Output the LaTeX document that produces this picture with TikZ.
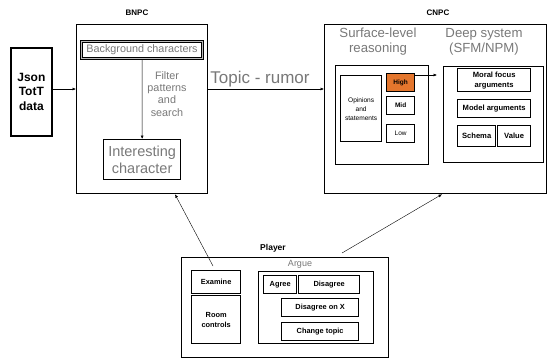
\documentclass[tikz,border=0pt]{standalone}
\usepackage{fontspec}
\setmainfont{Liberation Sans}
\usetikzlibrary{arrows.meta}
\definecolor{txtgray}{RGB}{120,120,120}
\definecolor{hiorange}{RGB}{228,118,45}
\begin{document}
\begin{tikzpicture}[x=1pt,y=-1pt,
  box/.style={draw=black,line width=1.3pt,inner sep=0pt,anchor=north west,align=center},
  arr/.style={-{Latex[length=3.5pt,width=3pt]},line width=0.5pt},
  ttl/.style={font=\bfseries\fontsize{8}{9.5}\selectfont},
  gr/.style={text=txtgray,align=center}]
\useasboundingbox (0,0) rectangle (548,360);
% Json
\node[box,line width=1.7pt,minimum width=41pt,minimum height=88pt,font=\bfseries\fontsize{12}{14.5}\selectfont] (json) at (10,47) {Json\\TotT\\data};
% BNPC
\node[ttl] (bnpclbl) at (137,13) {BNPC};
\node[box,minimum width=131pt,minimum height=169pt] (bnpc) at (76,24) {};
\node[box,double=txtgray!50,double distance=0.6pt,line width=1pt,minimum width=121pt,minimum height=17pt,text=txtgray,font=\fontsize{10.8}{12}\selectfont] (bg) at (81,41) {Background characters};
\node[box,minimum width=77pt,minimum height=40pt,text=txtgray,font=\fontsize{14.5}{17}\selectfont] (int) at (103,139) {Interesting\\character};
\node[gr,font=\fontsize{10.8}{12.2}\selectfont] (filter) at (167,94) {Filter\\patterns\\and\\search};
\draw[arr] (bg.south) -- (int.north);
\draw[arr] (json.east |- 0,89) coordinate (jsonout) -- (jsonout -| bnpc.west);
% CNPC
\node[ttl] (cnpclbl) at (438,13) {CNPC};
\node[box,minimum width=222pt,minimum height=169pt] (cnpc) at (324,24) {};
\draw[arr] (jsonout -| bnpc.east) -- (jsonout -| cnpc.west);
\node[gr,font=\fontsize{17}{20}\selectfont,anchor=south] (topic) at (260,91) {Topic - rumor};
\node[gr,font=\fontsize{13.2}{15}\selectfont] (surflbl) at (378,42) {Surface-level\\reasoning};
\node[gr,font=\fontsize{13.2}{15}\selectfont] (deeplbl) at (484,42) {Deep system\\(SFM/NPM)};
\node[box,minimum width=93pt,minimum height=99pt] (surf) at (335,65) {};
\node[box,minimum width=41pt,minimum height=66pt,font=\fontsize{6.6}{9}\selectfont] (opin) at (340,75) {Opinions\\and\\statements};
\node[box,fill=hiorange,minimum width=28pt,minimum height=18pt,font=\bfseries\fontsize{6.5}{7.5}\selectfont] (high) at (386,73) {High};
\node[box,minimum width=28pt,minimum height=18pt,font=\bfseries\fontsize{6.5}{7.5}\selectfont] (mid) at (386,96) {Mid};
\node[box,minimum width=28pt,minimum height=18pt,font=\fontsize{6.5}{7.5}\selectfont] (low) at (386,124) {Low};
\node[box,minimum width=100pt,minimum height=96pt] (deep) at (443,66) {};
\node[box,minimum width=73pt,minimum height=23pt,font=\bfseries\fontsize{7.6}{10}\selectfont] (moral) at (457,68) {Moral focus\\arguments};
\node[box,minimum width=73pt,minimum height=18pt,font=\bfseries\fontsize{7.6}{9}\selectfont] (model) at (457,99) {Model arguments};
\node[box,minimum width=38pt,minimum height=21pt,font=\bfseries\fontsize{7.6}{9}\selectfont] (schema) at (457,125) {Schema};
\node[box,minimum width=33pt,minimum height=21pt,font=\bfseries\fontsize{7.6}{9}\selectfont] (value) at (497,125) {Value};
\coordinate (hightip) at (437,75);
\draw[arr] (high.east |- hightip) -- (hightip);
% Player
\node[ttl,font=\bfseries\fontsize{8.5}{10}\selectfont] (playerlbl) at (273,248) {Player};
\node[box,minimum width=207pt,minimum height=100pt] (player) at (181,257) {};
\node[gr,font=\fontsize{9}{10.5}\selectfont] (arguelbl) at (300,264) {Argue};
\node[box,minimum width=49pt,minimum height=23pt,font=\bfseries\fontsize{7.4}{9}\selectfont] (examine) at (191,270) {Examine};
\node[box,minimum width=49pt,minimum height=48pt,font=\bfseries\fontsize{7.4}{10}\selectfont] (room) at (191,295) {Room\\controls};
\node[box,minimum width=115pt,minimum height=72pt] (argue) at (258,271) {};
\node[box,minimum width=33pt,minimum height=18pt,font=\bfseries\fontsize{7.4}{9}\selectfont] (agree) at (263,275) {Agree};
\node[box,minimum width=61pt,minimum height=18pt,font=\bfseries\fontsize{7.4}{9}\selectfont] (disagree) at (298,275) {Disagree};
\node[box,minimum width=77pt,minimum height=18pt,font=\bfseries\fontsize{7.4}{9}\selectfont] (disx) at (281,298) {Disagree on X};
\node[box,minimum width=77pt,minimum height=18pt,font=\bfseries\fontsize{7.4}{9}\selectfont] (change) at (281,322) {Change topic};
\coordinate (p1) at (213,266);
\coordinate (p2) at (342,253);
\draw[arr,line width=0.4pt] (p1) -- (bnpc.south -| 175,0);
\draw[arr,line width=0.4pt] (p2) -- (cnpc.south -| 442,0);
\end{tikzpicture}
\end{document}
